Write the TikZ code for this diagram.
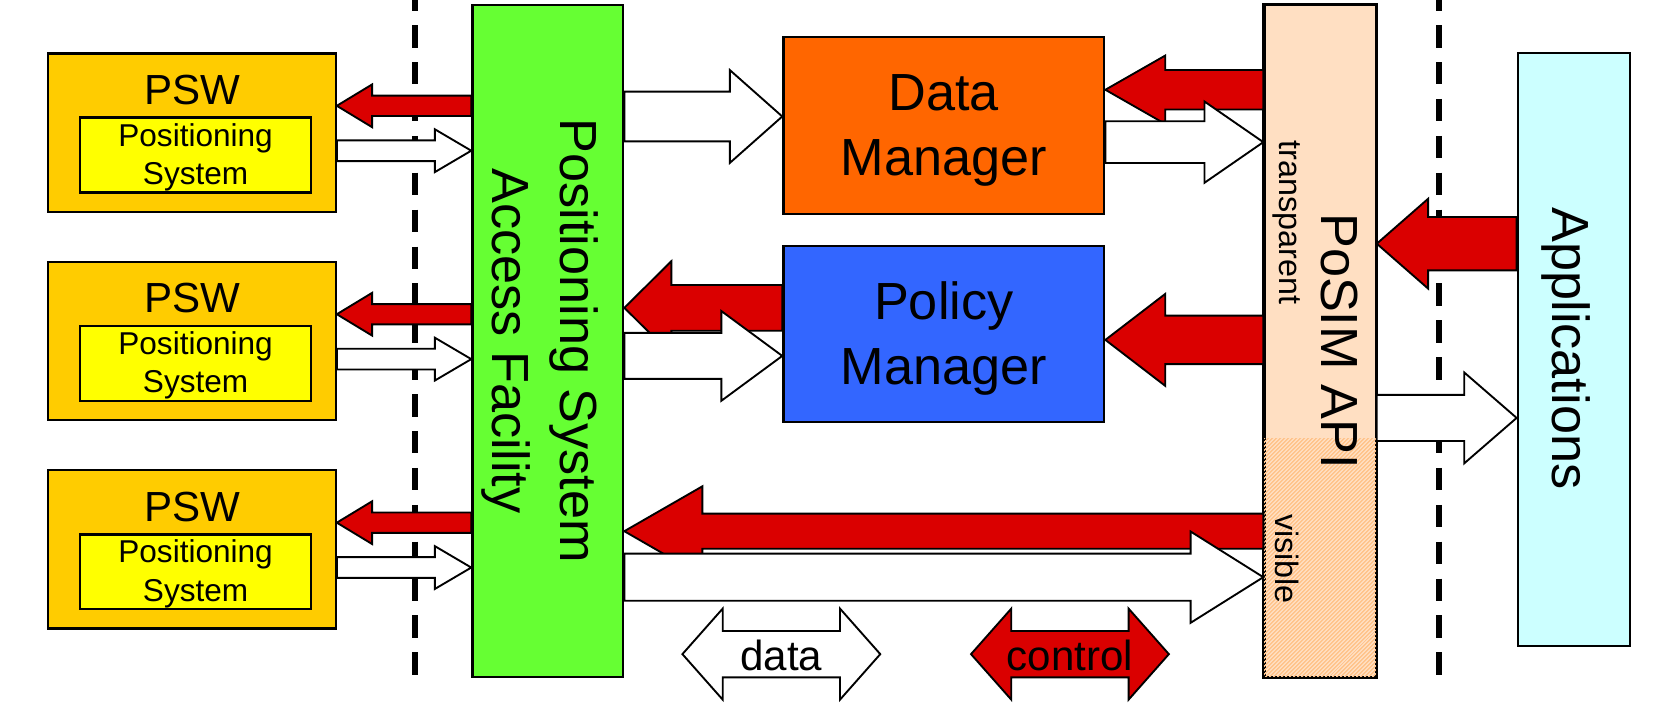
\documentclass[tikz,border=0pt]{standalone}
\usepackage{fontspec}
\setmainfont{Liberation Sans}
\usetikzlibrary{calc,shapes.arrows,patterns.meta}

\definecolor{pswfill}{RGB}{255,204,0}
\definecolor{sysfill}{RGB}{255,255,0}
\definecolor{psaffill}{RGB}{102,255,51}
\definecolor{dmfill}{RGB}{255,102,0}
\definecolor{pmfill}{RGB}{51,102,255}
\definecolor{apifill}{RGB}{255,223,194}
\definecolor{apihatch}{RGB}{255,196,140}
\definecolor{appfill}{RGB}{204,255,255}
\definecolor{ctrlred}{RGB}{218,0,0}

% block arrow: style, from, to, y, shaft half width, head half width, head length (signed)
\newcommand{\blockarrow}[7]{%
  \path[#1] ($(#2 |- 0,#4)+(0,#5)$) -- ($(#3 |- 0,#4)+({-(#7)},#5)$)
    -- ($(#3 |- 0,#4)+({-(#7)},#6)$) -- (#3 |- 0,#4)
    -- ($(#3 |- 0,#4)+({-(#7)},{-(#6)})$) -- ($(#3 |- 0,#4)+({-(#7)},{-(#5)})$)
    -- ($(#2 |- 0,#4)+(0,{-(#5)})$) -- cycle;}

\begin{document}
\begin{tikzpicture}[
    x=0.01cm, y=-0.01cm,
    box/.style={draw=black, line width=0.6pt, inner sep=0pt},
    psw/.style={box, fill=pswfill, minimum width=2.69cm, minimum height=1.48cm},
    sys/.style={box, fill=sysfill, minimum width=2.16cm, minimum height=0.70cm},
    mgr/.style={box, minimum width=3.00cm, minimum height=1.65cm},
    lbl/.style={font=\fontsize{11.2}{13}\selectfont},
    small/.style={font=\fontsize{8.4}{10.2}\selectfont, align=center},
    mid/.style={font=\fontsize{13.9}{17.2}\selectfont, align=center},
    big/.style={font=\fontsize{13.9}{18}\selectfont, align=center, rotate=-90},
    note/.style={font=\fontsize{8.6}{10}\selectfont, rotate=-90},
    ctrlarrow/.style={fill=ctrlred, draw=black, line width=0.5pt},
    dataarrow/.style={fill=white, draw=black, line width=0.5pt},
    key/.style={double arrow, draw=black, line width=0.5pt, minimum height=1.85cm, double arrow head extend=0.209cm, double arrow tip angle=97, inner ysep=0pt, text height=0.358cm, text depth=0.058cm, font=\fontsize{11.2}{13}\selectfont},
    sep/.style={line width=1.5pt, dash pattern=on 0.21cm off 0.135cm}
]
\useasboundingbox (0,0) rectangle (1568,659);

% separators
\draw[sep] (388,-11) -- (388,640);
\draw[sep] (1346,-11) -- (1346,640);

% positioning systems
\node[psw] (psw1) at (179.5,124) {};
\node[psw] (psw2) at (179.5,319) {};
\node[psw] (psw3) at (179.5,514) {};
\node[lbl] (pswlbl1) at (180,84) {PSW};
\node[lbl] (pswlbl2) at (180,279) {PSW};
\node[lbl] (pswlbl3) at (180,474) {PSW};
\node[sys] (sys1) at (183,145) {};
\node[sys] (sys2) at (183,340) {};
\node[sys] (sys3) at (183,535) {};
\node[small] (systext1) at (183,147) {Positioning\\System};
\node[small] (systext2) at (183,342) {Positioning\\System};
\node[small] (systext3) at (183,537) {Positioning\\System};

% middleware blocks
\node[box, fill=psaffill, minimum width=1.41cm, minimum height=6.28cm] (psaf) at (512.5,319) {};
\node[mgr, fill=dmfill] (dm) at (883,117.5) {};
\node[mgr, fill=pmfill] (pm) at (883,312.5) {};
\node[box, fill=apifill, minimum width=1.04cm, minimum height=6.28cm] (api) at (1235,319) {};
\fill[pattern={Lines[angle=45,distance=0.9pt,line width=0.45pt]}, pattern color=apihatch]
    (api.south west) rectangle (api.east |- 0,410);
\draw[box] (api.south west) rectangle (api.north east);
\node[box, fill=appfill, minimum width=1.05cm, minimum height=5.54cm] (app) at (1472.5,327) {};

% control flow
\blockarrow{ctrlarrow}{psaf.west}{psw1.east}{99}{9.5}{20}{-33}
\blockarrow{ctrlarrow}{psaf.west}{psw2.east}{294}{9.5}{20}{-33}
\blockarrow{ctrlarrow}{psaf.west}{psw3.east}{489}{9.5}{20}{-33}
\blockarrow{ctrlarrow}{api.west}{dm.east}{84}{18.5}{32}{-56}
\blockarrow{ctrlarrow}{pm.west}{psaf.east}{288}{21.4}{43.6}{-44}
\blockarrow{ctrlarrow}{api.west}{pm.east}{318}{22.7}{43}{-56}
\blockarrow{ctrlarrow}{api.west}{psaf.east}{497}{16.4}{42}{-73}
\blockarrow{ctrlarrow}{app.west}{api.east}{228}{25}{42}{-48}

% data flow
\blockarrow{dataarrow}{psw1.east}{psaf.west}{141}{9.7}{20}{34}
\blockarrow{dataarrow}{psw2.east}{psaf.west}{336}{9.7}{20}{34}
\blockarrow{dataarrow}{psw3.east}{psaf.west}{531}{9.7}{20}{34}
\blockarrow{dataarrow}{psaf.east}{dm.west}{109}{23.3}{43.4}{49}
\blockarrow{dataarrow}{dm.east}{api.west}{133}{19.5}{38}{55}
\blockarrow{dataarrow}{psaf.east}{pm.west}{333}{21.5}{42}{57}
\blockarrow{dataarrow}{psaf.east}{api.west}{540}{22}{42.7}{68}
\blockarrow{dataarrow}{api.east}{app.west}{391}{21.6}{42.5}{49}

% labels
\node[mid] (dmtext) at (883,122) {Data\\Manager};
\node[mid] (pmtext) at (883,317) {Policy\\Manager};
\node[big] (psaftext) at (505,319) {Positioning System\\Access Facility};
\node[big] (apitext) at (1253,319) {PoSIM API};
\node[big] (apptext) at (1465,326) {Applications};
\node[note] (transp) at (1204,208) {transparent};
\node[note] (visib) at (1204,523) {visible};

% legend
\node[key, fill=white] (datakey) at (731,612) {data};
\node[key, fill=ctrlred] (ctrlkey) at (1001,612) {control};

\end{tikzpicture}
\end{document}
